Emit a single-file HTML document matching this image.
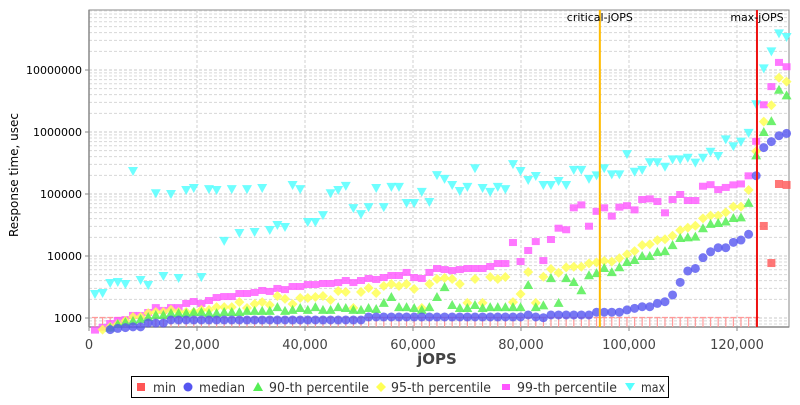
<!DOCTYPE html>
<html><head><meta charset="utf-8"><style>
body{margin:0;background:#fff;font-family:"Liberation Sans","DejaVu Sans",sans-serif}
svg text{font-family:"DejaVu Sans","Liberation Sans",sans-serif}
</style></head><body>
<svg id="chart" width="800" height="400" xmlns="http://www.w3.org/2000/svg">
<rect width="800" height="400" fill="#fff"/>
<g id="grid"></g>
<g id="axes"></g>
<g id="marks"></g>
<text x="18" y="175" transform="rotate(-90 18 175)" text-anchor="middle" font-size="12" fill="#000">Response time, usec</text>
<text x="437" y="364" text-anchor="middle" font-size="15" font-weight="bold" fill="#444">jOPS</text>
<g>
<rect x="131.5" y="376.5" width="537" height="21" fill="#fff" stroke="#000"/>
<rect x="137" y="383" width="8" height="8" fill="#ff5555"/>
<text x="153" y="392" font-size="13" fill="#333" textLength="23" lengthAdjust="spacingAndGlyphs">min</text>
<circle cx="188" cy="387" r="4.5" fill="#5555f0"/>
<text x="199" y="392" font-size="13" fill="#333" textLength="46" lengthAdjust="spacingAndGlyphs">median</text>
<polygon points="258,382 263,391 253,391" fill="#55ee55"/>
<text x="269" y="392" font-size="13" fill="#333" textLength="100" lengthAdjust="spacingAndGlyphs">90-th percentile</text>
<polygon points="381,382 386,387 381,392 376,387" fill="#ffff55"/>
<text x="391" y="392" font-size="13" fill="#333" textLength="100" lengthAdjust="spacingAndGlyphs">95-th percentile</text>
<rect x="502" y="384" width="8" height="6" fill="#ff55ff"/>
<text x="517" y="392" font-size="13" fill="#333" textLength="100" lengthAdjust="spacingAndGlyphs">99-th percentile</text>
<polygon points="625,383 635,383 630,391" fill="#55ffff"/>
<text x="641" y="392" font-size="13" fill="#333" textLength="24" lengthAdjust="spacingAndGlyphs">max</text>
</g>
</svg>
<script>
const jops=[1110,2520,3925,5330,6740,8150,9555,10960,12370,13775,15185,16590,18000,19405,20815,22220,23630,25035,26440,27850,29260,30665,32070,33480,34885,36295,37700,39110,40515,41925,43330,44740,46145,47555,48960,50370,51775,53185,54590,55995,57405,58810,60220,61625,63035,64440,65850,67255,68665,70070,71480,72885,74295,75700,77110,78515,79920,81330,82735,84145,85550,86960,88365,89775,91180,92590,93995,95405,96810,98220,99625,101035,102440,103850,105255,106665,108070,109480,110885,112290,113700,115105,116515,117920,119330,120735,122145,123550,124960,126365,127775,129180];
const minV=[500,500,500,500,500,500,500,500,500,500,500,500,500,500,500,500,500,500,500,500,500,500,500,500,500,500,500,500,500,500,500,500,500,500,500,500,500,500,500,500,500,500,500,500,500,500,500,500,500,500,500,500,500,500,500,500,500,500,500,500,500,500,500,500,500,500,500,500,500,500,500,500,500,500,500,500,500,500,500,500,500,500,500,500,500,500,500,500,30500,7700,145000,140000];
const medianV=[600,620,650,680,700,720,720,830,830,830,930,930,930,930,930,930,930,930,930,930,930,930,930,930,930,930,930,930,930,930,930,930,930,930,930,930,1040,1040,1040,1040,1040,1040,1040,1040,1040,1040,1040,1040,1040,1040,1040,1040,1040,1040,1040,1040,1040,1120,1040,1010,1120,1120,1120,1120,1120,1120,1240,1240,1240,1240,1350,1430,1520,1520,1720,1830,2350,3760,5730,6300,9400,11700,13600,13600,16600,18100,22400,197000,560000,700000,870000,950000];
const p90V=[550,600,700,800,860,900,960,1040,1120,1120,1200,1200,1200,1250,1250,1200,1200,1250,1250,1250,1300,1300,1300,1300,1500,1300,1350,1450,1350,1500,1350,1350,1500,1450,1350,1350,1450,1400,1750,2180,1500,1500,1450,1350,1500,2180,3150,1620,1450,1450,1620,1450,1500,1500,1500,1500,1500,3400,1500,1600,4400,1750,4400,3800,2800,4900,5300,6400,5500,6600,8000,8600,10000,10000,11600,12000,15000,19500,20000,20500,28000,33000,34000,36000,41000,42000,72000,420000,1000000,1500000,4800000,3900000];
const p95V=[600,650,720,800,900,1040,1040,1200,1250,1250,1350,1250,1250,1250,1350,1350,1500,1500,1500,1800,1450,1680,1800,1620,2260,2030,1680,2100,2100,2180,2260,1950,2730,2630,1450,2630,3050,2530,3280,3530,3280,3530,2930,1450,3530,4260,4420,4260,3530,1750,4260,1750,4580,4260,4580,1800,2440,5530,1750,4630,6160,5380,6560,6700,6700,7620,7900,8300,8100,9200,10600,12000,15000,15500,18000,18600,21200,26000,28600,30800,40500,44800,44800,50600,62500,62500,116000,490000,1470000,2700000,7500000,6500000];
const p99V=[650,720,830,930,960,1120,1120,1250,1500,1350,1500,1500,1750,1880,1750,1950,2180,2260,2260,2530,2530,2630,2830,2730,3050,2930,3280,3280,3530,3530,3670,3670,3800,4100,3800,4100,4420,4260,4580,4940,4940,5530,4580,4420,5530,6400,6160,5940,6160,6400,6400,6400,6900,7700,7700,16800,8300,12500,17400,8600,18800,28600,27000,61000,68000,30800,53500,61000,44800,62500,66000,56500,83000,85000,77000,50600,83000,100000,80000,80000,136000,144000,120000,130000,143000,148000,200000,720000,2800000,5500000,13500000,11500000];
const maxV=[2440,2530,3670,3800,3530,235000,4100,3400,103000,4750,100000,4420,116000,125000,4580,120000,116000,17500,120000,23500,120000,24400,125000,26300,31600,29400,140000,120000,35400,35400,45700,103000,116000,135000,59300,47300,61500,125000,61500,130000,130000,71500,71500,108000,74200,202000,175000,140000,112000,130000,260000,125000,108000,130000,120000,303000,235000,168000,195000,140000,140000,162000,140000,245000,245000,175000,200000,260000,207000,207000,440000,228000,245000,325000,325000,275000,362000,362000,385000,320000,385000,480000,410000,760000,590000,700000,970000,2800000,10600000,20000000,39000000,34000000];
const xTicks=[0,20000,40000,60000,80000,100000,120000];
const xTickLabels=["0","20,000","40,000","60,000","80,000","100,000","120,000"];
const yTicks=[1000,10000,100000,1000000,10000000];
const yTickLabels=["1000","10000","100000","1000000","10000000"];
const criticalJops=[94600];
const maxJops=[123700];

const L=89,R=789,T=10,B=327,XMAX=129630;
const LOGMIN=3-9/62, LOGMAX=3+308/62;
const xs=v=>L+(v/XMAX)*(R-L);
const ys=v=>B-(Math.log10(v)-LOGMIN)/(LOGMAX-LOGMIN)*(B-T);
const NS="http://www.w3.org/2000/svg";
function mk(tag,attrs,parent){const e=document.createElementNS(NS,tag);for(const k in attrs)e.setAttribute(k,attrs[k]);parent.appendChild(e);return e;}
const grid=document.getElementById('grid'),axes=document.getElementById('axes'),marks=document.getElementById('marks');
mk('rect',{x:L,y:T,width:R-L,height:B-T,fill:'#fff',stroke:'#888'},grid);
for(let d=2;d<=7;d++){for(let m=1;m<=9;m++){const v=m*Math.pow(10,d);const y=ys(v);if(y<T||y>B)continue;
 const ln=mk('line',{x1:L,x2:R,y1:y,y2:y,stroke:m===1?'#c8c8c8':'#d8d8d8','stroke-dasharray':'3,2','stroke-width':1},grid);
 
 }}
xTicks.forEach((v,i)=>{const x=xs(v);
 if(i>0){const g=mk('line',{x1:x,x2:x,y1:T,y2:B,stroke:'#d0d0d0','stroke-dasharray':'3,2'},grid);
 
 }
 mk('line',{x1:x,x2:x,y1:B,y2:B+4,stroke:'#888'},axes);
 const t=mk('text',{x:x,y:B+22,'text-anchor':'middle','font-size':13,fill:'#444'},axes);t.textContent=xTickLabels[i];
 
 });
yTicks.forEach((v,i)=>{const y=ys(v);
 mk('line',{x1:L-4,x2:L,y1:y,y2:y,stroke:'#888'},axes);
 const t=mk('text',{x:L-7,y:y+4,'text-anchor':'end','font-size':11,fill:'#000'},axes);t.textContent=yTickLabels[i];
 
 });
mk('line',{x1:L,x2:L,y1:T,y2:B,stroke:'#888','stroke-width':1.5},axes);
mk('line',{x1:L,x2:R,y1:B,y2:B,stroke:'#888','stroke-width':1.5},axes);
minV.forEach((v,i)=>{const x=xs(jops[i]);
 if(ys(v)>B){const g=mk('path',{d:`M${x-3},${ys(1000)-0.5}H${x+3}M${x},${ys(1000)-0.5}V${B}`,stroke:'#ff9a9a','stroke-width':1.2,fill:'none'},marks);
  
  }
 else{const r=mk('rect',{x:x-4,y:ys(v)-4,width:8,height:8,fill:'#ff5555','fill-opacity':0.8},marks);
  
  }});
function series(vals,name,draw){vals.forEach((v,i)=>{const x=xs(jops[i]),y=ys(v);if(y>B+3||y<T-3)return;const e=draw(x,y);
 
 });}
series(maxV,'max-point',(x,y)=>mk('polygon',{points:`${x-5},${y-4} ${x+5},${y-4} ${x},${y+5}`,fill:'#55ffff','fill-opacity':0.85},marks));
series(p99V,'p99-point',(x,y)=>mk('rect',{x:x-4,y:y-3,width:8,height:7,fill:'#ff55ff','fill-opacity':0.8},marks));
series(p95V,'p95-point',(x,y)=>mk('polygon',{points:`${x},${y-5} ${x+5},${y} ${x},${y+5} ${x-5},${y}`,fill:'#ffff55','fill-opacity':0.85},marks));
series(p90V,'p90-point',(x,y)=>mk('polygon',{points:`${x},${y-5} ${x+5},${y+4} ${x-5},${y+4}`,fill:'#55ee55','fill-opacity':0.85},marks));
series(medianV,'median-point',(x,y)=>mk('circle',{cx:x,cy:y,r:4.5,fill:'#5555f0','fill-opacity':0.8},marks));
criticalJops.forEach(v=>{const x=xs(v);const l=mk('line',{x1:x,x2:x,y1:T,y2:B,stroke:'#ffbb00','stroke-width':2},marks);
 
 
 const t=mk('text',{x:x,y:21,'text-anchor':'middle','font-size':11,fill:'#000'},marks);t.textContent='critical-jOPS';
 
 });
maxJops.forEach(v=>{const x=xs(v);const l=mk('line',{x1:x,x2:x,y1:T,y2:B,stroke:'#ee1111','stroke-width':2},marks);
 
 
 const t=mk('text',{x:x,y:21,'text-anchor':'middle','font-size':11,fill:'#000'},marks);t.textContent='max-jOPS';
 
 });
</script>
</body></html>
